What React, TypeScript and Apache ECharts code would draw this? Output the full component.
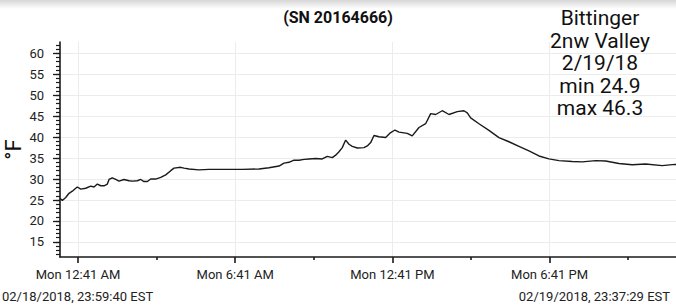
import React, { useEffect, useRef } from "react";
import * as echarts from "echarts";

// ---- texts ----
const titleText = "(SN 20164666)";
const noteLines = ["Bittinger", "2nw Valley", "2/19/18", "min 24.9", "max 46.3"];
const startLabel = "02/18/2018, 23:59:40 EST";
const endLabel = "02/19/2018, 23:37:29 EST";
const yAxisName = "°F";

// ---- axes (x in minutes after Mon 12:41 AM) ----
const xMin = -41.33; // 02/18 23:59:40
const xMax = 1376.48; // 02/19 23:37:29
const xTickValues = [0, 360, 720, 1080];
const xTickLabels = ["Mon 12:41 AM", "Mon 6:41 AM", "Mon 12:41 PM", "Mon 6:41 PM"];
const xMinorValues = [180, 540, 900, 1260];
const yMin = 11.4;
const yMax = 62.7;
const yTickValues = [15, 20, 25, 30, 35, 40, 45, 50, 55, 60];
const yMinorValues: number[] = [];
for (let v = 12; v <= 62; v++) yMinorValues.push(v);

// ---- series ----
const minutes = [
  -41.3, -36.0, -28.2, -20.6, -13.1, -5.3, -1.6, 6.2, 17.6, 29.1, 36.6, 44.2, 52.0, 59.5, 67.1,
  71.0, 78.5, 86.3, 93.8, 105.3, 116.8, 124.3, 135.8, 143.6, 151.1, 158.7, 166.5, 177.9, 189.4,
  200.8, 212.3, 219.8, 235.2, 242.7, 254.2, 277.1, 300.0, 338.2, 376.2, 414.5, 437.4, 460.3,
  471.7, 483.2, 494.6, 506.1, 517.5, 529.0, 544.3, 559.4, 570.9, 582.3, 590.1, 597.7, 605.2,
  613.0, 620.6, 628.1, 639.6, 654.9, 662.5, 670.3, 677.8, 689.3, 704.6, 716.1, 725.9, 735.1,
  754.1, 765.5, 780.9, 796.2, 807.7, 819.1, 834.2, 849.6, 868.6, 883.9, 891.5, 899.3, 918.3,
  941.2, 964.1, 987.0, 1009.9, 1032.8, 1055.7, 1078.6, 1101.5, 1132.0, 1154.8, 1185.5, 1208.4,
  1238.9, 1269.3, 1300.0, 1338.0, 1367.1, 1376.5,
];
const tempF = [
  25.4, 24.9, 25.6, 26.6, 27.1, 27.8, 28.1, 27.6, 27.8, 28.3, 28.1, 28.8, 28.4, 28.4, 28.8,
  29.9, 30.3, 29.9, 29.5, 29.9, 29.6, 29.5, 29.6, 29.9, 29.4, 29.4, 30.0, 30.0, 30.4,
  31.0, 32.0, 32.6, 32.8, 32.6, 32.4, 32.2, 32.3, 32.3, 32.3, 32.4, 32.7, 33.1,
  33.8, 34.0, 34.5, 34.5, 34.7, 34.8, 34.9, 34.8, 35.4, 35.1, 35.7, 36.5, 37.5,
  39.3, 38.3, 37.8, 37.4, 37.5, 37.9, 38.7, 40.4, 40.1, 39.9, 41.1, 41.7, 41.2,
  40.9, 40.3, 42.3, 43.2, 45.6, 45.4, 46.3, 45.4, 46.1, 46.3, 45.8, 44.6, 43.2,
  41.6, 39.9, 38.9, 37.8, 36.7, 35.5, 34.8, 34.4, 34.2, 34.1, 34.4, 34.3,
  33.7, 33.4, 33.6, 33.2, 33.5, 33.4,
];

const FONT = "Roboto";

export default function App() {
  const ref = useRef<HTMLDivElement>(null);
  useEffect(() => {
    if (!ref.current) return;
    const chart = echarts.init(ref.current, null, { renderer: "svg" });
    const labelFor = (v: number) => {
      const i = xTickValues.findIndex((t) => Math.abs(t - v) < 0.5);
      return i >= 0 ? xTickLabels[i] : "";
    };
    chart.setOption({
      animation: false,
      backgroundColor: "#ffffff",
      grid: { left: 60, right: -3, top: 42, bottom: 51, containLabel: false, outerBoundsMode: "none" },
      xAxis: [
        {
          type: "value",
          min: xMin,
          max: xMax,
          position: "bottom",
          axisLine: { show: true, onZero: false, lineStyle: { color: "#1a1a1a", width: 1.6 } },
          axisTick: { show: true, customValues: xTickValues, length: 6, lineStyle: { color: "#1a1a1a", width: 1.6 } },
          axisLabel: {
            show: true,
            customValues: xTickValues,
            formatter: labelFor,
            margin: 11,
            fontFamily: FONT,
            fontSize: 13,
            color: "#222",
          },
          splitLine: { show: true, lineStyle: { color: "#ececec", width: 1 } },
        },
        {
          type: "value",
          min: xMin,
          max: xMax,
          position: "bottom",
          offset: 0,
          axisLine: { show: false, onZero: false },
          axisTick: { show: true, customValues: xMinorValues, length: 3, lineStyle: { color: "#1a1a1a", width: 1.6 } },
          axisLabel: { show: false },
          splitLine: { show: false },
        },
      ],
      yAxis: [
        {
          type: "value",
          min: yMin,
          max: yMax,
          position: "left",
          name: yAxisName,
          nameLocation: "middle",
          nameRotate: 90,
          nameGap: 36,
          nameMoveOverlap: false,
          nameTextStyle: { fontFamily: FONT, fontSize: 22, color: "#111" },
          axisLine: { show: true, onZero: false, lineStyle: { color: "#1a1a1a", width: 1.6 } },
          axisTick: { show: true, customValues: yTickValues, length: 7, lineStyle: { color: "#1a1a1a", width: 1.3 } },
          axisLabel: {
            show: true,
            customValues: yTickValues,
            margin: 16,
            fontFamily: FONT,
            fontSize: 13,
            color: "#222",
          },
          splitLine: { show: true, lineStyle: { color: "#ececec", width: 1 } },
        },
        {
          type: "value",
          min: yMin,
          max: yMax,
          position: "left",
          offset: 0,
          axisLine: { show: false, onZero: false },
          axisTick: { show: true, customValues: yMinorValues, length: 4, lineStyle: { color: "#1a1a1a", width: 1.2 } },
          axisLabel: { show: false },
          splitLine: { show: false },
        },
      ],
      graphic: [
        {
          type: "rect",
          shape: { x: 0, y: 0, width: 676, height: 9 },
          style: {
            fill: new echarts.graphic.LinearGradient(0, 0, 0, 1, [
              { offset: 0, color: "rgba(0,0,0,0.16)" },
              { offset: 1, color: "rgba(0,0,0,0)" },
            ]),
          },
          silent: true,
        },
        {
          type: "text",
          x: 338,
          y: 17,
          style: {
            text: titleText,
            textAlign: "center",
            textVerticalAlign: "middle",
            fontFamily: FONT,
            fontWeight: "bold",
            fontSize: 16,
            fill: "#111",
          },
        },
        {
          type: "text",
          x: 600,
          y: 7,
          style: {
            text: noteLines.join("\n"),
            textAlign: "center",
            textVerticalAlign: "top",
            fontFamily: FONT,
            fontSize: 21,
            lineHeight: 22.5,
            fill: "#111",
          },
        },
        {
          type: "text",
          x: 2,
          y: 296,
          style: {
            text: startLabel,
            textAlign: "left",
            textVerticalAlign: "middle",
            fontFamily: FONT,
            fontSize: 13,
            fill: "#222",
          },
        },
        {
          type: "text",
          x: 670,
          y: 296,
          style: {
            text: endLabel,
            textAlign: "right",
            textVerticalAlign: "middle",
            fontFamily: FONT,
            fontSize: 13,
            fill: "#222",
          },
        },
      ],
      series: [
        {
          type: "line",
          xAxisIndex: 0,
          yAxisIndex: 0,
          data: minutes.map((m, i) => [m, tempF[i]]),
          showSymbol: false,
          symbol: "none",
          lineStyle: { color: "#1a1a1a", width: 1.4 },
          clip: true,
        },
      ],
    });
    return () => chart.dispose();
  }, []);
  return (
    <div
      ref={ref}
      style={{ position: "fixed", left: 0, top: 0, width: 676, height: 308, background: "#fff" }}
    />
  );
}
